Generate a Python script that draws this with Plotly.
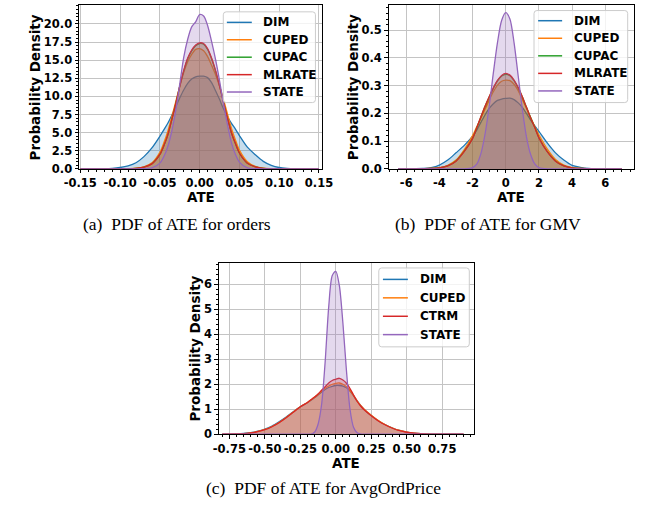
import plotly.graph_objects as go

W, H = 648, 508

# ---------------- data ----------------
series_a = ["DIM", "CUPED", "CUPAC", "MLRATE", "STATE"]
x_a = [-0.15, -0.13, -0.12, -0.11, -0.10, -0.09, -0.08, -0.07, -0.06, -0.05, -0.045, -0.04, -0.035,
       -0.03, -0.025, -0.02, -0.015, -0.01, -0.005, 0.0, 0.005, 0.01, 0.015, 0.02, 0.025, 0.03,
       0.035, 0.04, 0.045, 0.05, 0.06, 0.07, 0.08, 0.09, 0.10, 0.11, 0.12, 0.13, 0.15]
dim_a = [0.0, 0.01, 0.03, 0.08, 0.2, 0.42, 0.86, 1.7, 2.9, 4.5, 5.4, 6.3, 7.4, 8.6, 9.8, 10.9, 11.8,
         12.4, 12.7, 12.8, 12.8, 12.6, 11.9, 10.8, 9.6, 8.3, 7.2, 6.3, 5.5, 4.6, 3.0, 1.95, 1.05, 0.5,
         0.2, 0.08, 0.03, 0.01, 0.0]
cuped_a = [0.0, 0.0, 0.0, 0.005, 0.01, 0.04, 0.1, 0.3, 0.85, 2.3, 3.6, 5.2, 7.2, 9.3, 11.4, 13.3, 14.8,
           15.8, 16.5, 16.6, 16.3, 15.5, 14.3, 13.0, 11.4, 9.6, 7.6, 5.6, 4.0, 2.6, 1.0, 0.35, 0.1, 0.03,
           0.01, 0.0, 0.0, 0.0, 0.0]
cupac_a = [0.0, 0.0, 0.0, 0.005, 0.01, 0.02, 0.08, 0.26, 0.72, 2.0, 3.2, 4.7, 6.8, 9.0, 11.4, 13.5, 15.2,
           16.3, 17.0, 17.3, 17.2, 16.5, 15.2, 13.5, 11.5, 9.2, 7.0, 5.0, 3.5, 2.2, 0.8, 0.3, 0.08, 0.02,
           0.01, 0.0, 0.0, 0.0, 0.0]
mlrate_a = [0.0, 0.0, 0.0, 0.005, 0.01, 0.02, 0.08, 0.25, 0.7, 2.0, 3.2, 4.7, 6.8, 9.0, 11.4, 13.6, 15.3,
            16.4, 17.1, 17.4, 17.3, 16.6, 15.3, 13.6, 11.5, 9.2, 7.0, 5.0, 3.5, 2.2, 0.8, 0.3, 0.08, 0.02,
            0.01, 0.0, 0.0, 0.0, 0.0]
state_a = [0.0, 0.0, 0.0, 0.0, 0.0, 0.0, 0.01, 0.03, 0.15, 0.8, 1.7, 3.1, 5.2, 8.1, 11.7, 15.4, 17.9,
           19.6, 20.3, 21.3, 21.1, 19.8, 17.6, 15.1, 12.2, 9.0, 6.1, 3.6, 2.0, 0.95, 0.15, 0.03, 0.01,
           0.0, 0.0, 0.0, 0.0, 0.0, 0.0]

series_b = ["DIM", "CUPED", "CUPAC", "MLRATE", "STATE"]
x_b = [-6.5, -6, -5.5, -5, -4.5, -4, -3.5, -3, -2.5, -2, -1.75, -1.5, -1.25, -1, -0.75, -0.5, -0.25,
       0, 0.25, 0.5, 0.75, 1, 1.25, 1.5, 1.75, 2, 2.5, 3, 3.5, 4, 4.5, 5, 5.5, 6, 6.5, 7]
dim_b = [0.0, 0.0005, 0.001, 0.002, 0.005, 0.014, 0.032, 0.058, 0.085, 0.118, 0.14, 0.168, 0.195,
         0.218, 0.235, 0.247, 0.252, 0.254, 0.255, 0.25, 0.238, 0.222, 0.2, 0.176, 0.155, 0.135,
         0.094, 0.058, 0.032, 0.013, 0.006, 0.002, 0.001, 0.0005, 0.0, 0.0]
cuped_b = [0.0, 0.0, 0.0, 0.001, 0.002, 0.005, 0.013, 0.032, 0.07, 0.12, 0.152, 0.183, 0.215, 0.248,
           0.278, 0.302, 0.316, 0.32, 0.318, 0.305, 0.282, 0.25, 0.218, 0.185, 0.153, 0.123, 0.072,
           0.034, 0.014, 0.005, 0.002, 0.001, 0.0, 0.0, 0.0, 0.0]
cupac_b = [0.0, 0.0, 0.0, 0.001, 0.002, 0.004, 0.011, 0.029, 0.064, 0.11, 0.148, 0.187, 0.225, 0.259,
           0.29, 0.317, 0.335, 0.341, 0.336, 0.318, 0.292, 0.259, 0.222, 0.185, 0.15, 0.113, 0.063,
           0.029, 0.011, 0.004, 0.002, 0.001, 0.0, 0.0, 0.0, 0.0]
mlrate_b = [0.0, 0.0, 0.0, 0.001, 0.002, 0.004, 0.011, 0.028, 0.063, 0.11, 0.148, 0.188, 0.226, 0.26,
            0.292, 0.319, 0.337, 0.344, 0.338, 0.32, 0.293, 0.26, 0.222, 0.184, 0.149, 0.112, 0.062,
            0.028, 0.011, 0.004, 0.002, 0.001, 0.0, 0.0, 0.0, 0.0]
state_b = [0.0, 0.0, 0.0, 0.0, 0.0, 0.0, 0.0, 0.0, 0.0, 0.005, 0.017, 0.055, 0.125, 0.225, 0.345,
           0.455, 0.535, 0.563, 0.54, 0.455, 0.335, 0.215, 0.115, 0.052, 0.018, 0.005, 0.0, 0.0, 0.0,
           0.0, 0.0, 0.0, 0.0, 0.0, 0.0, 0.0]

series_c = ["DIM", "CUPED", "CTRM", "STATE"]
x_c = [-0.8, -0.7, -0.65, -0.6, -0.55, -0.5, -0.45, -0.4, -0.35, -0.3, -0.25, -0.2, -0.175, -0.15,
       -0.125, -0.1, -0.075, -0.05, -0.025, 0.0, 0.025, 0.05, 0.075, 0.1, 0.125, 0.15, 0.175, 0.2,
       0.25, 0.3, 0.35, 0.4, 0.45, 0.5, 0.55, 0.6, 0.65, 0.7, 0.8, 0.9]
dim_c = [0.0, 0.015, 0.03, 0.06, 0.12, 0.21, 0.33, 0.5, 0.69, 0.9, 1.1, 1.26, 1.36, 1.46, 1.57, 1.69,
         1.79, 1.87, 1.92, 1.95, 1.95, 1.93, 1.86, 1.73, 1.54, 1.34, 1.15, 0.99, 0.75, 0.54, 0.38, 0.25,
         0.15, 0.085, 0.045, 0.02, 0.01, 0.005, 0.001, 0.0]
cuped_c = [0.0, 0.012, 0.025, 0.055, 0.11, 0.19, 0.31, 0.47, 0.67, 0.89, 1.1, 1.27, 1.38, 1.48, 1.6,
           1.73, 1.84, 1.93, 2.0, 2.04, 2.05, 2.0, 1.9, 1.76, 1.56, 1.34, 1.15, 1.0, 0.76, 0.55, 0.38,
           0.25, 0.15, 0.085, 0.045, 0.02, 0.01, 0.005, 0.002, 0.0]
ctrm_c = [0.0, 0.01, 0.02, 0.05, 0.1, 0.18, 0.3, 0.46, 0.66, 0.88, 1.1, 1.27, 1.38, 1.49, 1.61, 1.76,
          1.9, 2.05, 2.15, 2.2, 2.24, 2.17, 2.04, 1.83, 1.57, 1.32, 1.13, 0.98, 0.74, 0.53, 0.37, 0.24,
          0.14, 0.08, 0.04, 0.02, 0.008, 0.004, 0.001, 0.0]
state_c = [0.0, 0.0, 0.0, 0.0, 0.0, 0.0, 0.0, 0.0, 0.0, 0.0, 0.0, 0.0, 0.005, 0.08, 0.4, 1.2, 2.9, 5.1,
           6.35, 6.52, 5.95, 4.45, 2.55, 1.0, 0.28, 0.06, 0.01, 0.0, 0.0, 0.0, 0.0, 0.0, 0.0, 0.0, 0.0,
           0.0, 0.0, 0.0, 0.0, 0.0]

xtick_a = [-0.15, -0.10, -0.05, 0.0, 0.05, 0.10, 0.15]
xtext_a = ["-0.15", "-0.10", "-0.05", "0.00", "0.05", "0.10", "0.15"]
ytick_a = [0, 2.5, 5, 7.5, 10, 12.5, 15, 17.5, 20]
ytext_a = ["0.0", "2.5", "5.0", "7.5", "10.0", "12.5", "15.0", "17.5", "20.0"]
xtick_b = [-6, -4, -2, 0, 2, 4, 6]
xtext_b = ["-6", "-4", "-2", "0", "2", "4", "6"]
ytick_b = [0, 0.1, 0.2, 0.3, 0.4, 0.5]
ytext_b = ["0.0", "0.1", "0.2", "0.3", "0.4", "0.5"]
xtick_c = [-0.75, -0.5, -0.25, 0.0, 0.25, 0.5, 0.75]
xtext_c = ["-0.75", "-0.50", "-0.25", "0.00", "0.25", "0.50", "0.75"]
ytick_c = [0, 1, 2, 3, 4, 5, 6]
ytext_c = ["0", "1", "2", "3", "4", "5", "6"]

captions = ["(a)\u00a0\u00a0PDF of ATE for orders",
            "(b)\u00a0\u00a0PDF of ATE for GMV",
            "(c)\u00a0\u00a0PDF of ATE for AvgOrdPrice"]

# ---------------- styling ----------------
COL = {"DIM": "#1f77b4", "CUPED": "#ff7f0e", "CUPAC": "#2ca02c", "MLRATE": "#d62728",
       "CTRM": "#d62728", "STATE": "#9467bd"}


def rgba(hexc, a):
    h = hexc.lstrip("#")
    return "rgba(%d,%d,%d,%.2f)" % (int(h[0:2], 16), int(h[2:4], 16), int(h[4:6], 16), a)


def px(x):
    return x / W


def py(y):
    return 1 - y / H


fig = go.Figure()

panels = [
    ("x", "y", x_a, series_a, [dim_a, cuped_a, cupac_a, mlrate_a, state_a]),
    ("x2", "y2", x_b, series_b, [dim_b, cuped_b, cupac_b, mlrate_b, state_b]),
    ("x3", "y3", x_c, series_c, [dim_c, cuped_c, ctrm_c, state_c]),
]

for xa, ya, xs, names, ys in panels:
    for name, yv in zip(names, ys):
        c = COL[name]
        fig.add_trace(go.Scatter(x=xs, y=yv, mode="lines", name=name, xaxis=xa, yaxis=ya,
                                 showlegend=False,
                                 line=dict(color=c, width=1.3, shape="spline", smoothing=0.8),
                                 hoverinfo="skip"))
        fig.add_trace(go.Scatter(x=xs, y=yv, mode="lines", fill="tozeroy", xaxis=xa, yaxis=ya,
                                 fillcolor=rgba(c, 0.25), showlegend=False,
                                 line=dict(color=rgba(c, 0.0), width=0, shape="spline", smoothing=0.8),
                                 hoverinfo="skip"))

TF = dict(family="DejaVu Sans", size=11.5, color="black", weight="bold")


def axis(domain, rng, tv, tt, minor_dt, anchor):
    return dict(domain=domain, range=rng, anchor=anchor, tickmode="array", tickvals=tv, ticktext=tt,
                tickangle=0, showline=True, mirror=True, linecolor="black", linewidth=1,
                ticks="outside", ticklen=3.5, tickwidth=1, tickcolor="black",
                showgrid=True, gridcolor="#c4c4c4", gridwidth=1, zeroline=False, tickfont=TF,
                minor=dict(tickmode="linear", tick0=0, dtick=minor_dt, ticks="outside", ticklen=2,
                           tickwidth=0.8, tickcolor="black", showgrid=False))


yd_top = [py(171.3), py(5)]
yd_bot = [py(440.3), py(266.7)]

fig.update_layout(
    width=W, height=H, margin=dict(l=0, r=0, t=0, b=0),
    paper_bgcolor="white", plot_bgcolor="white",
    xaxis=axis([px(66.7), px(320)], [-0.1516, 0.154], xtick_a, xtext_a, 0.01, "y"),
    yaxis=axis(yd_top, [0, 22.63], ytick_a, ytext_a, 0.5, "x"),
    xaxis2=axis([px(389.3), px(645)], [-7.06, 7.74], xtick_b, xtext_b, 0.5, "y2"),
    yaxis2=axis(yd_top, [0, 0.591], ytick_b, ytext_b, 0.02, "x2"),
    xaxis3=axis([px(212.3), px(478)], [-0.825, 0.973], xtick_c, xtext_c, 0.05, "y3"),
    yaxis3=axis(yd_bot, [0, 6.853], ytick_c, ytext_c, 0.2, "x3"),
    showlegend=False,
)

# ---------------- legends (box, line samples, labels) ----------------
LF = dict(family="DejaVu Sans", size=12, color="black", weight="bold")
legends = [
    # box left, top, right, bottom, line x0, x1, text x, row ys, names
    (217, 12, 313, 104, 220.7, 246.7, 256, [22.7, 40.3, 58.0, 75.7, 93.3], series_a),
    (540.7, 10.7, 638.3, 104, 545, 570, 580, [21.0, 38.8, 56.6, 74.4, 92.2], series_b),
    (379, 271.7, 473.3, 351.7, 383.3, 409.3, 420, [283.3, 302.0, 320.7, 339.3], series_c),
]
shapes = []
R = 3
for x0, y0, x1, y1, lx0, lx1, tx, rows, names in legends:
    X0, X1, Y0, Y1 = px(x0), px(x1), py(y0), py(y1)
    rx, ry = R / W, R / H
    path = ("M %f,%f L %f,%f Q %f,%f %f,%f L %f,%f Q %f,%f %f,%f L %f,%f Q %f,%f %f,%f "
            "L %f,%f Q %f,%f %f,%f Z" % (
                X0 + rx, Y0, X1 - rx, Y0, X1, Y0, X1, Y0 - ry, X1, Y1 + ry, X1, Y1, X1 - rx, Y1,
                X0 + rx, Y1, X0, Y1, X0, Y1 + ry, X0, Y0 - ry, X0, Y0, X0 + rx, Y0))
    shapes.append(dict(type="path", path=path, xref="paper", yref="paper",
                       fillcolor="rgba(255,255,255,0.8)", line=dict(color="#cccccc", width=1),
                       layer="above"))
    for yy, nm in zip(rows, names):
        shapes.append(dict(type="line", xref="paper", yref="paper", x0=px(lx0), x1=px(lx1),
                           y0=py(yy), y1=py(yy), line=dict(color=COL[nm], width=1.5), layer="above"))
        fig.add_annotation(x=px(tx), y=py(yy), xref="paper", yref="paper", text=nm, showarrow=False,
                           font=LF, xanchor="left", yanchor="middle")
fig.update_layout(shapes=shapes)

AF = dict(family="DejaVu Sans", size=13.5, color="black", weight="bold")
CF = dict(family="Liberation Serif", size=17.5, color="black")
ann = [
    (21, 88.5, "Probability Density", -90, AF),
    (352, 88.5, "Probability Density", -90, AF),
    (187.5, 353.5, "Probability Density", -90, AF),
    (193.5, 200, "ATE", 0, AF),
    (517, 200, "ATE", 0, AF),
    (345, 469.5, "ATE", 0, AF),
    (169, 227, captions[0], 0, CF),
    (492.5, 227, captions[1], 0, CF),
    (321, 495, captions[2], 0, CF),
]
for x, y, t, ang, f in ann:
    fig.add_annotation(x=px(x), y=py(y), xref="paper", yref="paper", text=t, textangle=ang,
                       showarrow=False, font=f, xanchor="center", yanchor="middle")

fig.write_html("out.html", config={"displayModeBar": False},
               post_script="document.body.style.margin='0';document.body.style.padding='0';"
                           "document.documentElement.style.overflow='hidden';")
